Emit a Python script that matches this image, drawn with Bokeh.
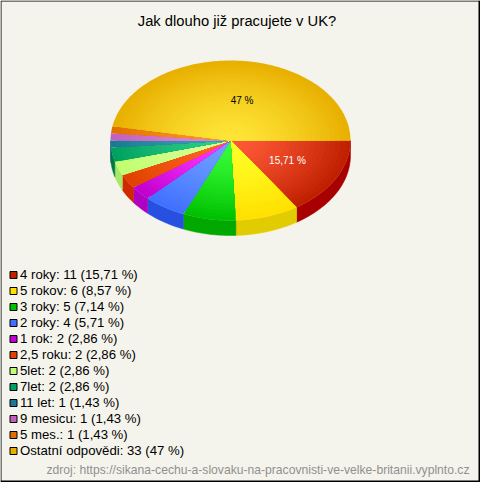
import math
from bokeh.plotting import figure
from bokeh.models import Range1d
from bokeh.embed import file_html
from bokeh.resources import INLINE

categories = ["4 roky", "5 rokov", "3 roky", "2 roky", "1 rok", "2,5 roku", "5let", "7let", "11 let", "9 mesicu", "5 mes.", "Ostatní odpovědi"]
counts = [11, 6, 5, 4, 2, 2, 2, 2, 1, 1, 1, 33]
pct_labels = ["15,71 %", "8,57 %", "7,14 %", "5,71 %", "2,86 %", "2,86 %", "2,86 %", "2,86 %", "1,43 %", "1,43 %", "1,43 %", "47 %"]
swatch = ["#c02000", "#ffe000", "#00c000", "#4070ff", "#c000d0", "#e04000", "#c0ff70", "#00a060", "#1a7a90", "#c060c0", "#e07000", "#e8b000"]
inner = ["#ff5a38", "#ffff28", "#38ff38", "#70a0ff", "#ff38ff", "#ff6820", "#d8ff98", "#30d088", "#40a0b8", "#e088e0", "#ff9830", "#ffe638"]
outer = ["#c02000", "#ffe000", "#00c000", "#4070ff", "#c000d0", "#e04000", "#c0ff70", "#00a060", "#1a7a90", "#c060c0", "#e07000", "#e8b000"]
side = ["#a80000", "#e0cc00", "#00a800", "#2850e0", "#b000c0", "#d02800", "#a8e868", "#007840", "#106070", "#a048a0", "#c05800", "#c89000"]
title = "Jak dlouho již pracujete v UK?"
source = "zdroj: https://sikana-cechu-a-slovaku-na-pracovnisti-ve-velke-britanii.vyplnto.cz"

W, H = 480, 482
CX, CY, RX, RY, DEPTH = 230, 140, 120, 80, 15
BG = "#f5f4ec"

p = figure(width=W, height=H, x_range=Range1d(0, W), y_range=Range1d(H, 0),
           output_backend="svg", toolbar_location=None, min_border=0,
           outline_line_color=None, background_fill_color=BG, border_fill_color=BG)
p.axis.visible = False
p.grid.visible = False
p.styles = {"position": "absolute", "left": "0px", "top": "0px"}


def mix(c1, c2, t):
    a = [int(c1[i:i + 2], 16) for i in (1, 3, 5)]
    b = [int(c2[i:i + 2], 16) for i in (1, 3, 5)]
    return "#%02x%02x%02x" % tuple(round(a[k] + (b[k] - a[k]) * t) for k in range(3))


total = sum(counts)
edges = [0]
for c in counts:
    edges.append(edges[-1] + c / total * 2 * math.pi)

# side faces
for i in range(len(counts)):
    a0, a1 = edges[i], min(edges[i + 1], math.pi)
    if a0 >= math.pi:
        continue
    n = max(3, int((a1 - a0) * 40))
    ang = [a0 + (a1 - a0) * k / n for k in range(n + 1)]
    xs = [CX + RX * math.cos(a) for a in ang]
    ys = [CY + RY * math.sin(a) for a in ang]
    p.patch(xs + xs[::-1], ys + [y + DEPTH for y in ys[::-1]], fill_color=side[i], line_color=side[i], line_width=0.5)

# top faces: radial shading
RINGS = 24
for i in range(len(counts)):
    a0, a1 = edges[i], edges[i + 1]
    n = max(3, int((a1 - a0) * 40))
    ang = [a0 + (a1 - a0) * k / n for k in range(n + 1)]
    for r in range(RINGS, 0, -1):
        f = r / RINGS
        xs = [CX] + [CX + f * RX * math.cos(a) for a in ang]
        ys = [CY] + [CY + f * RY * math.sin(a) for a in ang]
        p.patch(xs, ys, fill_color=mix(inner[i], outer[i], f ** 1.4), line_color=None)

# value labels
for i, dx, dy in ((0, 2, 0), (11, 6, 1.5)):
    mid = (edges[i] + edges[i + 1]) / 2
    lx = CX + RX * 0.52 * math.cos(mid) + dx
    ly = CY + RY * 0.52 * math.sin(mid) + dy
    p.text([lx], [ly], text=[pct_labels[i]], text_color="white" if i == 0 else "black",
           text_font_size="10px", text_align="center", text_baseline="middle", text_font={"value": "Liberation Sans"})

# legend
for i, cat in enumerate(categories):
    y = 274 + 16 * i
    p.quad(left=[9.5], right=[16.5], top=[y - 3], bottom=[y + 4], fill_color=swatch[i],
           line_color="black", line_width=1, line_join="miter")
    p.text([19.5], [y], text=[f"{cat}: {counts[i]} ({pct_labels[i]})"], text_color="black", text_font_size="13.2px",
           text_align="left", text_baseline="middle", text_font={"value": "Liberation Sans"})

p.text([236.5], [20], text=[title], text_color="black", text_font_size="14.75px", text_align="center",
       text_baseline="middle", text_font={"value": "Liberation Sans"})
p.text([469], [469], text=[source], text_color="#909090", text_font_size="12.15px", text_align="right",
       text_baseline="middle", text_font={"value": "Liberation Sans"})

# frame: 1px top and left, 2px right and bottom
p.line([0.5, 0.5, 479], [481, 0.5, 0.5], line_color="black", line_width=1)
p.line([479, 479, 0], [0, 481, 481], line_color="black", line_width=2)

open("out.html", "w").write(file_html(p, INLINE))
